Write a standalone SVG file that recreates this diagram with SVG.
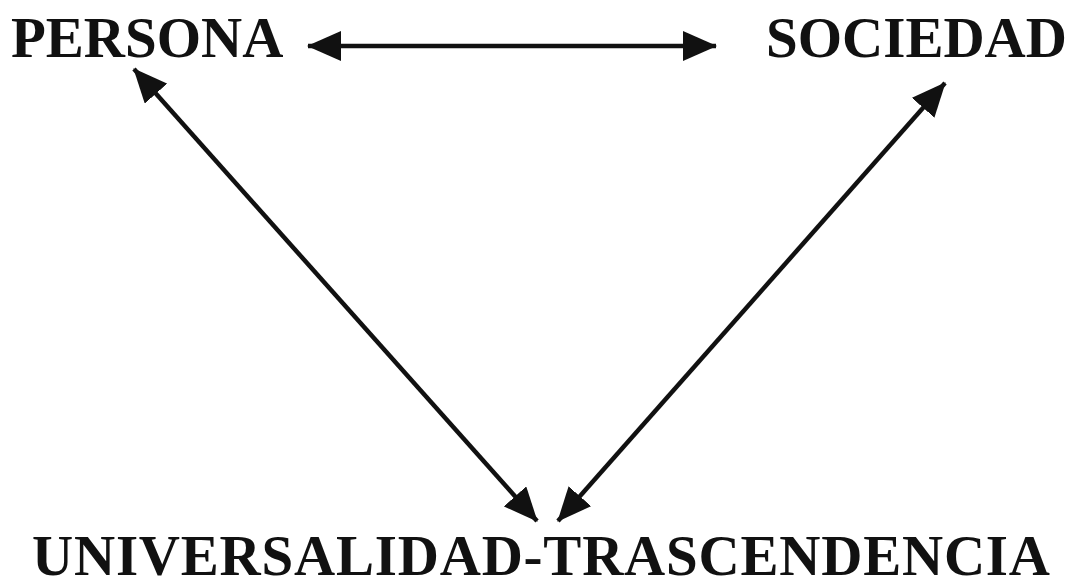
<svg xmlns="http://www.w3.org/2000/svg" width="1078" height="587" viewBox="0 0 1078 587">
  <style>
    .lbl { font-family: "Liberation Serif", "Times New Roman", serif; font-weight: bold; font-size: 57px; fill: #111; }
    .conn { stroke: #111; stroke-width: 4.5; fill: none; marker-start: url(#ah); marker-end: url(#ah); }
  </style>
  <defs>
    <marker id="ah" markerUnits="userSpaceOnUse" viewBox="0 0 34 30" refX="33" refY="15" markerWidth="34" markerHeight="30" orient="auto-start-reverse">
      <path d="M0,0 L34,15 L0,30 Z" fill="#111"/>
    </marker>
  </defs>
  <rect width="1078" height="587" fill="#fff"/>
  <g id="connectors">
    <line class="conn" x1="308" y1="46" x2="716" y2="46"/>
    <line class="conn" x1="134" y1="69" x2="537" y2="521"/>
    <line class="conn" x1="945" y1="83" x2="558" y2="521"/>
  </g>
  <g id="persona"><text class="lbl" x="11" y="57">PERSONA</text></g>
  <g id="sociedad"><text class="lbl" x="766" y="57">SOCIEDAD</text></g>
  <g id="universalidad"><text class="lbl" x="32" y="575" font-size="55" textLength="1018" lengthAdjust="spacing">UNIVERSALIDAD-TRASCENDENCIA</text></g>
</svg>
